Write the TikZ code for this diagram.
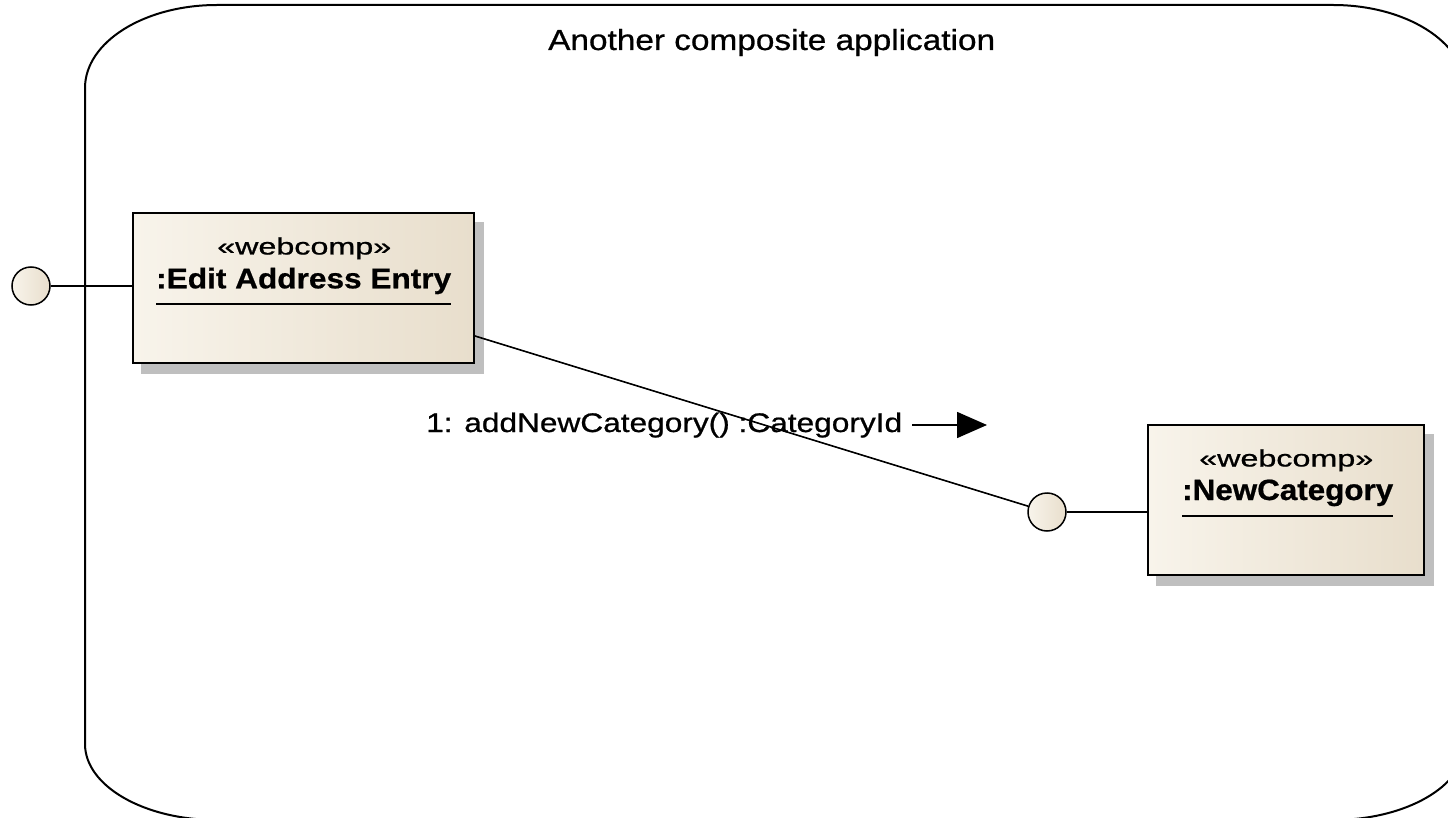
\documentclass[tikz,border=0pt]{standalone}
\usepackage{fontspec}
\setmainfont{Liberation Sans}[FakeBold=0.7]
\usetikzlibrary{arrows.meta,backgrounds}
\definecolor{creamL}{HTML}{F8F4EB}
\definecolor{creamR}{HTML}{E8DECC}
\definecolor{shadowgray}{HTML}{BFBFBF}
\newcommand{\fitt}[3]{\resizebox{#1pt}{#2pt}{#3}}
\begin{document}
\begin{tikzpicture}[x=1pt,y=-1pt,
  comp/.style={draw=black,line width=2pt,left color=creamL,right color=creamR,inner sep=0pt,minimum height=150pt},
  port/.style={circle,draw=black,line width=1.5pt,left color=creamL,right color=creamR,minimum size=38pt,inner sep=0pt},
  txt/.style={inner sep=0pt,anchor=base west},
  conn/.style={line width=1.6pt,draw=black},
  frame/.style={line width=2pt,draw=black},
  ulined/.style={line width=1.6pt}]
\useasboundingbox (0,0) rectangle (1448,818);
\clip (0,0) rectangle (1448,818);
% container
\draw[frame] (85,744) -- (85,88)
  arc[start angle=180,end angle=90,x radius=132pt,y radius=83pt] -- (1333,5)
  arc[start angle=90,end angle=0,x radius=132pt,y radius=83pt] -- (1465,744)
  arc[start angle=0,end angle=-90,x radius=132pt,y radius=76pt] -- (217,820)
  arc[start angle=270,end angle=180,x radius=132pt,y radius=76pt] -- cycle;
\node[txt] (title) at (548,50) {\fitt{447}{21}{Another composite application}};
% components
\node[comp,minimum width=341pt] (ea) at (303.5,288) {};
\node[comp,minimum width=276pt] (nc) at (1286,500) {};
\node[txt] (eas) at (217,254.5) {\fitt{174}{17}{«webcomp»}};
\node[txt] (ean) at (156,288.3) {\fitt{295}{20.5}{\bfseries :Edit Address Entry}};
\draw[ulined] ([yshift=-15.7pt]ean.base west) -- ([yshift=-15.7pt]ean.base east);
\node[txt] (ncs) at (1199,466.5) {\fitt{174}{17}{«webcomp»}};
\node[txt] (ncn) at (1182,500) {\fitt{211}{20.5}{\bfseries :NewCategory}};
\draw[ulined] ([yshift=-15.7pt]ncn.base west) -- ([yshift=-15.7pt]ncn.base east);
% ports
\node[port] (lc) at (31,286) {};
\node[port] (rc) at (1047,512) {};
\draw[conn] (lc) -- (lc -| ea.west);
\draw[conn] (rc) -- (rc -| nc.west);
\coordinate (eaout) at ([yshift=-48pt]ea.east);
\draw[conn] (eaout) -- (rc);
% message
\node[txt] (msg) at (426,432) {\fitt{476}{19.5}{1: addNewCategory() :CategoryId}};
\coordinate (ms) at (912,425);
\coordinate (mt) at (987,425);
\draw[conn,-{Triangle[length=30pt,width=26pt]}] (ms) -- (mt);
% background and shadows
\begin{scope}[on background layer]
\fill[white] (0,0) rectangle (1448,818);
\fill[shadowgray] ([shift={(9pt,-10pt)}]ea.south west) rectangle ([shift={(9pt,-10pt)}]ea.north east);
\fill[shadowgray] ([shift={(9pt,-10pt)}]nc.south west) rectangle ([shift={(9pt,-10pt)}]nc.north east);
\end{scope}
\end{tikzpicture}
\end{document}
